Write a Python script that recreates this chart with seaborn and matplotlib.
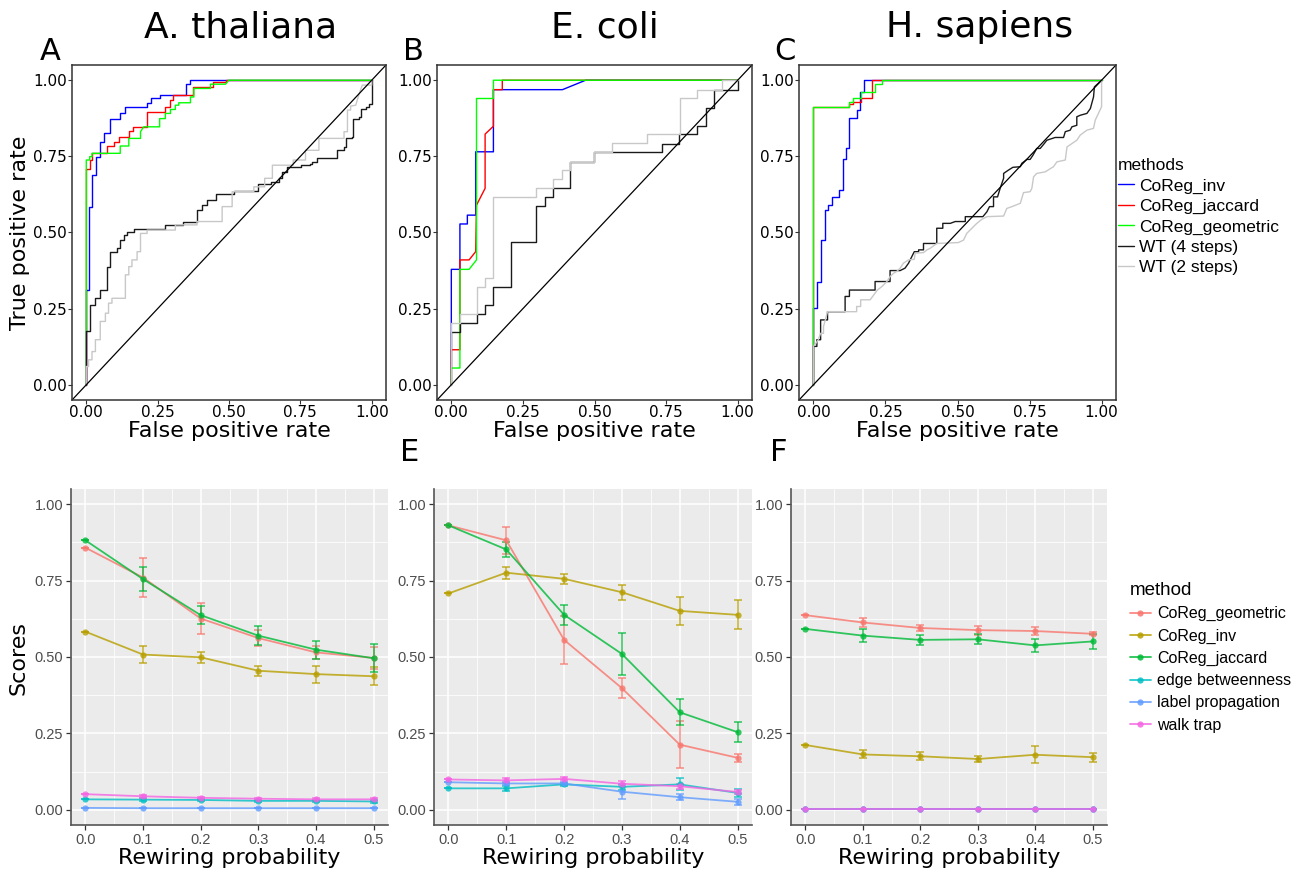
import numpy as np
import pandas as pd
import matplotlib
matplotlib.use("Agg")
import matplotlib.pyplot as plt
from matplotlib.lines import Line2D
import seaborn as sns

# ---- ROC curves (fpr, tpr) ----
ATH_INV = [(0, 0), (0, 0.311), (0.009, 0.311), (0.009, 0.585), (0.020, 0.585), (0.020, 0.689),
           (0.033, 0.689), (0.033, 0.749), (0.047, 0.749), (0.047, 0.798), (0.061, 0.798),
           (0.061, 0.827), (0.082, 0.827), (0.082, 0.874), (0.119, 0.874), (0.119, 0.891),
           (0.135, 0.891), (0.135, 0.913), (0.211, 0.913), (0.211, 0.926), (0.225, 0.926),
           (0.225, 0.940), (0.260, 0.940), (0.260, 0.951), (0.351, 0.951), (0.351, 0.987),
           (0.363, 0.987), (0.363, 1.0), (1.0, 1.0)]
ATH_JAC = [(0, 0), (0, 0.710), (0.012, 0.710), (0.012, 0.738), (0.020, 0.738), (0.020, 0.760),
           (0.073, 0.760), (0.073, 0.784), (0.096, 0.784), (0.096, 0.798), (0.113, 0.798),
           (0.113, 0.812), (0.149, 0.812), (0.149, 0.834), (0.164, 0.834), (0.164, 0.847),
           (0.211, 0.847), (0.211, 0.896), (0.277, 0.896), (0.277, 0.913), (0.295, 0.913),
           (0.295, 0.934), (0.304, 0.934), (0.304, 0.951), (0.374, 0.951), (0.374, 0.978),
           (0.444, 0.978), (0.444, 0.993), (0.490, 0.993), (0.490, 1.0), (1.0, 1.0)]
ATH_GEO = [(0, 0), (0, 0.738), (0.012, 0.738), (0.012, 0.749), (0.020, 0.749), (0.020, 0.760),
           (0.119, 0.760), (0.119, 0.784), (0.149, 0.784), (0.149, 0.809), (0.190, 0.809),
           (0.190, 0.831), (0.201, 0.847), (0.257, 0.847), (0.257, 0.874), (0.277, 0.874),
           (0.277, 0.891), (0.295, 0.891), (0.295, 0.904), (0.312, 0.904), (0.312, 0.918),
           (0.324, 0.918), (0.324, 0.926), (0.365, 0.926), (0.365, 0.945), (0.377, 0.945),
           (0.377, 0.973), (0.435, 0.973), (0.435, 0.987), (0.488, 0.987), (0.499, 1.0), (1.0, 1.0)]
ATH_WT4 = [(0, 0), (0, 0.175), (0.012, 0.175), (0.012, 0.262), (0.032, 0.262), (0.032, 0.284),
           (0.047, 0.284), (0.047, 0.311), (0.073, 0.311), (0.073, 0.388), (0.084, 0.388),
           (0.084, 0.437), (0.108, 0.437), (0.108, 0.448), (0.119, 0.448), (0.119, 0.475),
           (0.131, 0.475), (0.131, 0.492), (0.143, 0.492), (0.143, 0.503), (0.166, 0.503),
           (0.166, 0.510), (0.277, 0.510), (0.277, 0.525), (0.339, 0.525), (0.339, 0.536),
           (0.388, 0.536), (0.388, 0.574), (0.406, 0.574), (0.406, 0.590), (0.423, 0.590),
           (0.423, 0.607), (0.453, 0.607), (0.453, 0.625), (0.517, 0.625), (0.517, 0.637),
           (0.600, 0.637), (0.600, 0.659), (0.646, 0.659), (0.646, 0.667), (0.675, 0.667),
           (0.675, 0.678), (0.687, 0.678), (0.687, 0.699), (0.704, 0.699), (0.704, 0.714),
           (0.751, 0.714), (0.751, 0.721), (0.784, 0.721), (0.784, 0.725), (0.792, 0.725),
           (0.792, 0.732), (0.809, 0.732), (0.809, 0.743), (0.880, 0.743), (0.880, 0.770),
           (0.903, 0.770), (0.903, 0.781), (0.909, 0.781), (0.909, 0.809), (0.932, 0.809),
           (0.932, 0.814), (0.936, 0.814), (0.936, 0.874), (0.956, 0.874), (0.956, 0.880),
           (0.961, 0.880), (0.961, 0.907), (0.979, 0.907), (0.979, 0.913), (0.991, 0.913),
           (0.991, 0.923), (1.0, 0.923), (1.0, 1.0)]
ATH_WT2 = [(0, 0), (0, 0.060), (0.008, 0.060), (0.008, 0.082), (0.020, 0.082), (0.020, 0.109),
           (0.032, 0.109), (0.032, 0.148), (0.049, 0.148), (0.049, 0.208), (0.067, 0.208),
           (0.067, 0.235), (0.078, 0.235), (0.078, 0.268), (0.090, 0.268), (0.090, 0.284),
           (0.137, 0.284), (0.137, 0.361), (0.149, 0.361), (0.149, 0.388), (0.160, 0.388),
           (0.160, 0.410), (0.178, 0.410), (0.178, 0.437), (0.190, 0.437), (0.190, 0.497),
           (0.213, 0.497), (0.213, 0.508), (0.312, 0.508), (0.312, 0.525), (0.388, 0.525),
           (0.388, 0.536), (0.476, 0.536), (0.476, 0.585), (0.511, 0.585), (0.511, 0.634),
           (0.587, 0.634), (0.587, 0.650), (0.625, 0.650), (0.625, 0.678), (0.652, 0.678),
           (0.652, 0.721), (0.725, 0.721), (0.725, 0.738), (0.768, 0.738), (0.768, 0.770),
           (0.815, 0.770), (0.815, 0.809), (0.903, 0.809), (0.903, 0.831), (0.915, 0.831),
           (0.915, 0.902), (0.926, 0.902), (0.926, 0.915), (0.944, 0.918), (0.956, 0.956),
           (0.967, 0.984), (1.0, 0.984), (1.0, 1.0)]

ECO_INV = [(0, 0), (0, 0.379), (0.030, 0.379), (0.030, 0.528), (0.056, 0.528), (0.056, 0.557),
           (0.085, 0.557), (0.085, 0.765), (0.147, 0.765), (0.147, 0.969), (0.388, 0.969),
           (0.469, 1.0), (1.0, 1.0)]
ECO_JAC = [(0, 0), (0, 0.115), (0.030, 0.115), (0.030, 0.410), (0.062, 0.410), (0.085, 0.437),
           (0.088, 0.590), (0.118, 0.645), (0.118, 0.823), (0.147, 0.849), (0.147, 0.969),
           (0.178, 0.969), (0.178, 1.0), (1.0, 1.0)]
ECO_GEO = [(0, 0), (0, 0.055), (0.030, 0.055), (0.030, 0.379), (0.062, 0.379), (0.088, 0.410),
           (0.088, 0.940), (0.147, 0.940), (0.147, 1.0), (1.0, 1.0)]
ECO_WT4 = [(0, 0), (0, 0.172), (0.030, 0.172), (0.030, 0.202), (0.088, 0.202), (0.088, 0.233),
           (0.118, 0.233), (0.118, 0.262), (0.147, 0.262), (0.147, 0.322), (0.207, 0.322),
           (0.207, 0.470), (0.295, 0.470), (0.295, 0.588), (0.326, 0.588), (0.326, 0.617),
           (0.355, 0.617), (0.355, 0.645), (0.413, 0.645), (0.413, 0.732), (0.498, 0.732),
           (0.498, 0.765), (0.737, 0.765), (0.737, 0.792), (0.795, 0.792), (0.795, 0.823),
           (0.859, 0.823), (0.859, 0.849), (0.888, 0.849), (0.888, 0.909), (0.917, 0.909),
           (0.917, 0.967), (1.0, 0.967), (1.0, 1.0)]
ECO_WT2 = [(0, 0), (0, 0.202), (0.030, 0.202), (0.030, 0.233), (0.088, 0.233), (0.088, 0.322),
           (0.118, 0.322), (0.118, 0.350), (0.147, 0.350), (0.147, 0.617), (0.295, 0.617),
           (0.295, 0.645), (0.355, 0.645), (0.355, 0.675), (0.388, 0.675), (0.388, 0.705),
           (0.413, 0.705), (0.413, 0.732), (0.498, 0.732), (0.498, 0.765), (0.562, 0.765),
           (0.562, 0.794), (0.682, 0.794), (0.682, 0.823), (0.798, 0.823), (0.798, 0.940),
           (0.859, 0.940), (0.859, 0.969), (0.946, 0.969), (0.946, 1.0), (1.0, 1.0)]

HSA_INV = [(0, 0), (0, 0.251), (0.012, 0.251), (0.012, 0.339), (0.025, 0.339), (0.025, 0.475),
           (0.041, 0.475), (0.041, 0.574), (0.052, 0.574), (0.052, 0.590), (0.064, 0.590),
           (0.064, 0.615), (0.090, 0.615), (0.090, 0.639), (0.101, 0.639), (0.101, 0.740),
           (0.113, 0.740), (0.113, 0.776), (0.125, 0.776), (0.125, 0.877), (0.150, 0.877),
           (0.150, 0.902), (0.162, 0.902), (0.162, 0.962), (0.174, 0.962), (0.174, 1.0), (1.0, 1.0)]
HSA_JAC = [(0, 0), (0, 0.913), (0.125, 0.913), (0.125, 0.923), (0.139, 0.923), (0.139, 0.929),
           (0.164, 0.929), (0.164, 0.940), (0.203, 0.940), (0.203, 1.0), (1.0, 1.0)]
HSA_GEO = [(0, 0), (0, 0.913), (0.125, 0.913), (0.125, 0.927), (0.137, 0.927), (0.137, 0.940),
           (0.164, 0.940), (0.164, 0.962), (0.214, 0.962), (0.214, 0.987), (0.237, 0.987),
           (0.237, 1.0), (1.0, 1.0)]
HSA_WT4 = [(0, 0), (0, 0.126), (0.012, 0.126), (0.012, 0.148), (0.025, 0.148), (0.025, 0.213),
           (0.049, 0.213), (0.049, 0.240), (0.110, 0.240), (0.110, 0.290), (0.125, 0.290),
           (0.125, 0.311), (0.214, 0.311), (0.214, 0.339), (0.266, 0.339), (0.266, 0.375),
           (0.301, 0.375), (0.318, 0.383), (0.330, 0.399), (0.350, 0.437), (0.365, 0.437),
           (0.365, 0.443), (0.382, 0.443), (0.382, 0.464), (0.428, 0.464), (0.428, 0.514),
           (0.449, 0.514), (0.449, 0.530), (0.475, 0.530), (0.492, 0.536), (0.527, 0.536),
           (0.527, 0.552), (0.588, 0.552), (0.602, 0.568), (0.611, 0.585), (0.625, 0.585),
           (0.625, 0.617), (0.639, 0.617), (0.648, 0.645), (0.660, 0.678), (0.660, 0.694),
           (0.677, 0.705), (0.692, 0.714), (0.718, 0.716), (0.723, 0.727), (0.741, 0.740),
           (0.752, 0.740), (0.762, 0.754), (0.775, 0.776), (0.787, 0.776), (0.801, 0.792),
           (0.810, 0.803), (0.839, 0.812), (0.868, 0.812), (0.874, 0.831), (0.891, 0.836),
           (0.897, 0.847), (0.914, 0.852), (0.914, 0.880), (0.926, 0.885), (0.949, 0.891),
           (0.961, 0.907), (0.972, 0.945), (0.975, 0.978), (1.0, 1.0)]
HSA_WT2 = [(0, 0), (0, 0.126), (0.009, 0.137), (0.017, 0.148), (0.025, 0.169), (0.035, 0.169),
           (0.035, 0.191), (0.049, 0.240), (0.150, 0.240), (0.150, 0.257), (0.164, 0.257),
           (0.164, 0.279), (0.197, 0.279), (0.214, 0.301), (0.222, 0.311), (0.237, 0.322),
           (0.255, 0.339), (0.266, 0.355), (0.278, 0.366), (0.289, 0.372), (0.301, 0.383),
           (0.312, 0.399), (0.330, 0.410), (0.350, 0.412), (0.353, 0.432), (0.382, 0.434),
           (0.394, 0.443), (0.405, 0.448), (0.428, 0.464), (0.503, 0.467), (0.521, 0.475),
           (0.532, 0.497), (0.550, 0.514), (0.567, 0.530), (0.584, 0.543), (0.602, 0.552),
           (0.660, 0.554), (0.671, 0.579), (0.689, 0.585), (0.718, 0.596), (0.729, 0.631),
           (0.752, 0.634), (0.758, 0.645), (0.764, 0.683), (0.775, 0.694), (0.804, 0.699),
           (0.833, 0.716), (0.845, 0.732), (0.874, 0.738), (0.880, 0.781), (0.914, 0.803),
           (0.926, 0.820), (0.949, 0.836), (0.972, 0.842), (0.978, 0.869), (1.0, 0.913), (1.0, 1.0)]

ROC_METHODS = ["CoReg_inv", "CoReg_jaccard", "CoReg_geometric", "WT (4 steps)", "WT (2 steps)"]
ROC_COLORS = ["#0000FF", "#FF0000", "#00FF00", "#1A1A1A", "#C8C8C8"]

# ---- Rewiring robustness (mean score, error) ----
REWIRING = [0.0, 0.1, 0.2, 0.3, 0.4, 0.5]
SCORE_METHODS = ["CoReg_geometric", "CoReg_inv", "CoReg_jaccard",
                 "edge betweenness", "label propagation", "walk trap"]
SCORE_COLORS = ["#F8766D", "#B79F00", "#00BA38", "#00BFC4", "#619CFF", "#F564E3"]

ATH_SCORE = {
    "CoReg_geometric": [0.858, 0.760, 0.626, 0.562, 0.515, 0.497],
    "CoReg_inv": [0.583, 0.508, 0.499, 0.455, 0.444, 0.437],
    "CoReg_jaccard": [0.882, 0.755, 0.637, 0.570, 0.524, 0.496],
    "edge betweenness": [0.034, 0.033, 0.032, 0.029, 0.029, 0.027],
    "label propagation": [0.006, 0.005, 0.005, 0.005, 0.005, 0.005],
    "walk trap": [0.051, 0.044, 0.039, 0.036, 0.034, 0.034],
}
ATH_ERR = {
    "CoReg_geometric": [0, 0.065, 0.052, 0.025, 0.020, 0.035],
    "CoReg_inv": [0, 0.027, 0.018, 0.016, 0.028, 0.030],
    "CoReg_jaccard": [0, 0.040, 0.030, 0.030, 0.030, 0.045],
    "edge betweenness": [0, 0.004, 0.004, 0.004, 0.004, 0.004],
    "label propagation": [0, 0, 0, 0, 0, 0],
    "walk trap": [0, 0.004, 0.004, 0.004, 0.004, 0.004],
}
ECO_SCORE = {
    "CoReg_geometric": [0.931, 0.882, 0.556, 0.398, 0.213, 0.170],
    "CoReg_inv": [0.708, 0.776, 0.756, 0.712, 0.651, 0.638],
    "CoReg_jaccard": [0.931, 0.852, 0.638, 0.510, 0.319, 0.254],
    "edge betweenness": [0.070, 0.070, 0.083, 0.075, 0.083, 0.055],
    "label propagation": [0.090, 0.086, 0.086, 0.059, 0.041, 0.026],
    "walk trap": [0.099, 0.096, 0.101, 0.085, 0.077, 0.058],
}
ECO_ERR = {
    "CoReg_geometric": [0, 0.045, 0.079, 0.033, 0.078, 0.013],
    "CoReg_inv": [0, 0.020, 0.016, 0.024, 0.046, 0.047],
    "CoReg_jaccard": [0, 0.025, 0.033, 0.069, 0.042, 0.033],
    "edge betweenness": [0, 0.008, 0.005, 0.010, 0.020, 0.012],
    "label propagation": [0, 0.005, 0.005, 0.024, 0.010, 0.010],
    "walk trap": [0, 0.008, 0.005, 0.008, 0.008, 0.008],
}
HSA_SCORE = {
    "CoReg_geometric": [0.637, 0.613, 0.595, 0.588, 0.585, 0.576],
    "CoReg_inv": [0.212, 0.181, 0.175, 0.166, 0.180, 0.172],
    "CoReg_jaccard": [0.592, 0.570, 0.556, 0.558, 0.538, 0.551],
    "edge betweenness": [0.002, 0.002, 0.002, 0.002, 0.002, 0.002],
    "label propagation": [0.002, 0.002, 0.002, 0.002, 0.002, 0.002],
    "walk trap": [0.002, 0.002, 0.002, 0.002, 0.002, 0.002],
}
HSA_ERR = {
    "CoReg_geometric": [0, 0.015, 0.010, 0.015, 0.012, 0.005],
    "CoReg_inv": [0, 0.013, 0.013, 0.010, 0.027, 0.015],
    "CoReg_jaccard": [0, 0.022, 0.017, 0.017, 0.020, 0.025],
    "edge betweenness": [0, 0, 0, 0, 0, 0],
    "label propagation": [0, 0, 0, 0, 0, 0],
    "walk trap": [0, 0, 0, 0, 0, 0],
}

SANS = "Liberation Sans"

sns.set_theme(style="white")
plt.rcParams["font.family"] = ["DejaVu Sans"]
plt.rcParams["text.color"] = "black"
plt.rcParams["axes.labelcolor"] = "black"

W, H = 1306, 872
fig = plt.figure(figsize=(W / 100, H / 100), dpi=100)


def fig_rect(left, top, right, bottom):
    return [left / W, 1 - bottom / H, (right - left) / W, (bottom - top) / H]


def roc_panel(rect, curves):
    ax = fig.add_axes(rect)
    frames = []
    for name, pts in zip(ROC_METHODS, curves):
        d = pd.DataFrame(pts, columns=["fpr", "tpr"])
        d["method"] = name
        frames.append(d)
    df = pd.concat(frames, ignore_index=True)
    sns.lineplot(data=df, x="fpr", y="tpr", hue="method", hue_order=ROC_METHODS,
                 palette=ROC_COLORS, units="method", estimator=None, sort=False,
                 linewidth=1.0, legend=False, ax=ax)
    ax.axline((0, 0), (1, 1), color="black", linewidth=0.9)
    ax.set_xlim(-0.05, 1.05)
    ax.set_ylim(-0.05, 1.05)
    ax.set_xticks([0, 0.25, 0.5, 0.75, 1.0])
    ax.set_yticks([0, 0.25, 0.5, 0.75, 1.0])
    ax.set_xticklabels(["0.00", "0.25", "0.50", "0.75", "1.00"])
    ax.set_yticklabels(["0.00", "0.25", "0.50", "0.75", "1.00"])
    ax.tick_params(axis="both", which="major", length=3, width=0.8, color="#333333",
                   labelsize=11, pad=0.5, bottom=True, left=True, labelcolor="black")
    for s in ax.spines.values():
        s.set_color("#333333")
        s.set_linewidth(1.1)
    ax.set_xlabel("False positive rate", fontsize=16, labelpad=1)
    ax.set_ylabel("")
    return ax


def score_panel(rect, scores, errs):
    ax = fig.add_axes(rect)
    ax.set_facecolor("#EBEBEB")
    rows = []
    for m in SCORE_METHODS:
        for x, y, e in zip(REWIRING, scores[m], errs[m]):
            rows.append({"rewiring": x, "score": y, "err": e, "method": m})
    df = pd.DataFrame(rows)
    for m, c in zip(SCORE_METHODS, SCORE_COLORS):
        sub = df[df["method"] == m]
        ax.errorbar(sub["rewiring"], sub["score"], yerr=sub["err"], fmt="none",
                    ecolor=c, elinewidth=1.2, capsize=3, capthick=1.2, alpha=0.75, zorder=3)
    sns.lineplot(data=df, x="rewiring", y="score", hue="method", hue_order=SCORE_METHODS,
                 palette=SCORE_COLORS, marker="o", markersize=4.5, markeredgewidth=0,
                 linewidth=1.3, alpha=0.8, legend=False, ax=ax, zorder=4)
    ax.set_xlim(-0.025, 0.525)
    ax.set_ylim(-0.05, 1.05)
    ax.set_xticks(REWIRING)
    ax.set_xticks([0.05, 0.15, 0.25, 0.35, 0.45], minor=True)
    ax.set_yticks([0, 0.25, 0.5, 0.75, 1.0])
    ax.set_yticks([0.125, 0.375, 0.625, 0.875], minor=True)
    ax.set_xticklabels([f"{v:.1f}" for v in REWIRING], fontfamily=SANS)
    ax.set_yticklabels(["0.00", "0.25", "0.50", "0.75", "1.00"], fontfamily=SANS)
    ax.grid(True, which="major", color="white", linewidth=1.1)
    ax.grid(True, which="minor", color="white", linewidth=0.55)
    ax.set_axisbelow(True)
    ax.tick_params(axis="both", which="major", length=3.5, width=0.9, color="#333333",
                   labelsize=10.5, labelcolor="#4D4D4D", pad=2, bottom=True, left=True)
    ax.tick_params(axis="both", which="minor", length=0)
    for side in ["top", "right"]:
        ax.spines[side].set_visible(False)
    for side in ["left", "bottom"]:
        ax.spines[side].set_color("#555555")
        ax.spines[side].set_linewidth(1.2)
    ax.set_xlabel("Rewiring probability", fontsize=16, labelpad=1)
    ax.set_ylabel("")
    return ax


roc_panel(fig_rect(72, 65, 386, 400), [ATH_INV, ATH_JAC, ATH_GEO, ATH_WT4, ATH_WT2])
roc_panel(fig_rect(437, 65, 752, 400), [ECO_INV, ECO_JAC, ECO_GEO, ECO_WT4, ECO_WT2])
roc_panel(fig_rect(799, 65, 1116, 400), [HSA_INV, HSA_JAC, HSA_GEO, HSA_WT4, HSA_WT2])

score_panel(fig_rect(71, 489, 388, 825), ATH_SCORE, ATH_ERR)
score_panel(fig_rect(434, 489, 752, 825), ECO_SCORE, ECO_ERR)
score_panel(fig_rect(791, 489, 1107, 825), HSA_SCORE, HSA_ERR)

# titles, panel letters and shared axis labels
for txt, x in [("A. thaliana", 241), ("E. coli", 605), ("H. sapiens", 980)]:
    fig.text(x / W, 1 - 27 / H, txt, ha="center", va="center", fontsize=26, color="black")
for txt, x, y in [("A", 50, 52), ("B", 413, 52), ("C", 785, 52), ("E", 410, 452), ("F", 779, 452)]:
    fig.text(x / W, 1 - y / H, txt, ha="center", va="center", fontsize=22, color="black")
fig.text(20 / W, 1 - 233 / H, "True positive rate", rotation=90, ha="center", va="center",
         fontsize=16, color="black")
fig.text(18 / W, 1 - 658 / H, "Scores", rotation=90, ha="center", va="center",
         fontsize=16, color="black")

# legends
roc_handles = [Line2D([], [], color=c, linewidth=1.0) for c in ROC_COLORS]
leg1 = fig.legend(roc_handles, ROC_METHODS, title="methods", loc="upper left",
                  bbox_to_anchor=(1118 / W, 1 - 158 / H), frameon=False,
                  prop={"family": SANS, "size": 12.5}, handlelength=0.9, handletextpad=0.3,
                  labelspacing=0.3, borderaxespad=0, borderpad=0)
leg1.get_title().set_fontfamily(SANS)
leg1.get_title().set_fontsize(12.5)
leg1._legend_box.align = "left"

score_handles = [Line2D([], [], color=c, linewidth=1.3, marker="o", markersize=4.5,
                        markeredgewidth=0, alpha=0.85) for c in SCORE_COLORS]
leg2 = fig.legend(score_handles, SCORE_METHODS, title="method", loc="upper left",
                  bbox_to_anchor=(1130 / W, 1 - 582 / H), frameon=False,
                  prop={"family": SANS, "size": 11.5}, handlelength=1.3, handletextpad=0.4,
                  labelspacing=0.45, borderaxespad=0, borderpad=0)
leg2.get_title().set_fontfamily(SANS)
leg2.get_title().set_fontsize(13.5)
leg2._legend_box.align = "left"

fig.savefig("out.png", dpi=100)
